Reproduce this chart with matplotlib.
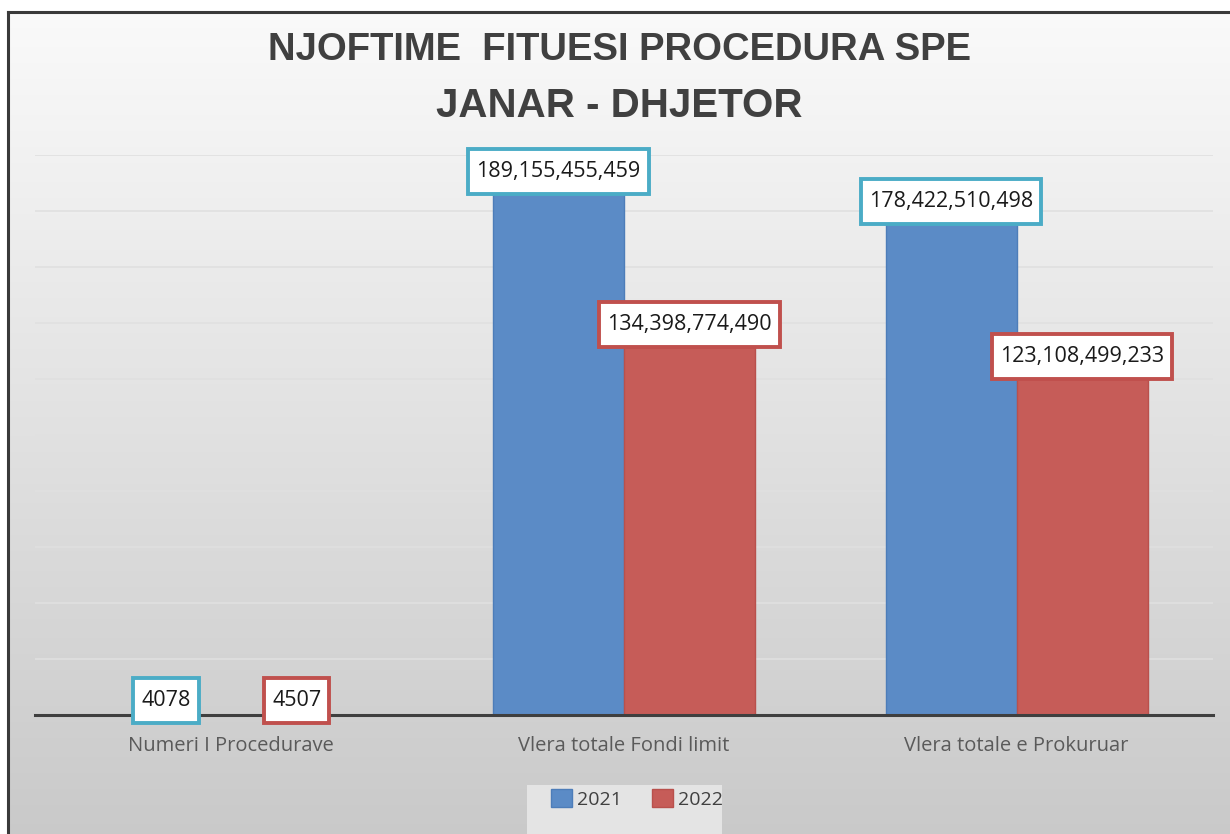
import numpy as np
import matplotlib
matplotlib.use("Agg")
import matplotlib.pyplot as plt
from matplotlib.patches import Patch, Rectangle
from matplotlib.lines import Line2D

# ---- data ----
categories = ["Numeri I Procedurave", "Vlera totale Fondi limit", "Vlera totale e Prokuruar"]
series_names = ["2021", "2022"]
values_2021 = [4078, 189155455459, 178422510498]
values_2022 = [4507, 134398774490, 123108499233]
label_formats = ["{:d}", "{:,d}", "{:,d}"]
title_lines = ["NJOFTIME  FITUESI PROCEDURA SPE", "JANAR - DHJETOR"]

bar_colors = ["#5b8bc6", "#c65c58"]
edge_colors = ["#4d7db9", "#b9504c"]
box_colors = ["#4bacc6", "#c0504d"]

W, H = 1230, 834
fig = plt.figure(figsize=(W / 100, H / 100), dpi=100)
fig.patch.set_facecolor("white")

# background gradient panel (chart area)
bx0, by_top = 8, 12
bg = fig.add_axes([bx0 / W, 0, 1 - bx0 / W, 1 - by_top / H], zorder=0)
grad = np.linspace(0.98, 0.79, 256).reshape(-1, 1)
bg.imshow(np.dstack([grad, grad, grad]), aspect="auto", extent=[0, 1, 0, 1], origin="upper")
bg.set_xlim(0, 1); bg.set_ylim(0, 1)
bg.axis("off")

# frame lines top and left
fig.add_artist(Line2D([bx0 / W, 1], [1 - by_top / H] * 2, color="#3a3a3a", lw=2.2, transform=fig.transFigure))
fig.add_artist(Line2D([bx0 / W] * 2, [0, 1 - by_top / H], color="#3a3a3a", lw=2.2, transform=fig.transFigure))

# main axes
ax_l, ax_r, ax_b, ax_t = 35, 1213, 715, 155
ax = fig.add_axes([ax_l / W, 1 - ax_b / H, (ax_r - ax_l) / W, (ax_b - ax_t) / H], zorder=2)
ax.patch.set_visible(False)

x = np.arange(len(categories))
bw = 1 / 3
series = [values_2021, values_2022]
labels = []
for i, vals in enumerate(series):
    xs = x + (i - 0.5) * bw
    ax.bar(xs, vals, width=bw, color=bar_colors[i], edgecolor=edge_colors[i], linewidth=1.0, zorder=3)
    for j, (xx, v) in enumerate(zip(xs, vals)):
        t = ax.annotate(label_formats[j].format(v), (xx, v), xytext=(0, 14), textcoords="offset pixels",
                        ha="center", va="center", fontsize=15.5, family="Open Sans", color="#1a1a1a",
                        zorder=7, annotation_clip=False)
        labels.append((t, box_colors[i]))

ax.set_xlim(-0.5, 2.5)
ax.set_ylim(0, 200e9)
ax.set_yticks(np.arange(20e9, 200e9 + 1, 20e9))
ax.yaxis.grid(True, color="#e0e0e0", linewidth=1.2, zorder=1)
ax.tick_params(axis="y", left=False, labelleft=False)
ax.set_xticks(x)
ax.set_xticklabels(categories, fontsize=14.5, family="Open Sans", color="#5a5a5a")
ax.tick_params(axis="x", length=0, pad=15)
for s in ["left", "right", "top"]:
    ax.spines[s].set_visible(False)
ax.spines["bottom"].set_color("#3f3f3f")
ax.spines["bottom"].set_linewidth(2.2)
ax.spines["bottom"].set_zorder(4)

# title
title_fam = ["Liberation Sans"]
fig.text(619 / W, 1 - 60 / H, title_lines[0], ha="center", va="baseline", fontsize=27.5,
         fontweight="bold", family=title_fam, color="#404040")
fig.text(619 / W, 1 - 117 / H, title_lines[1], ha="center", va="baseline", fontsize=29,
         fontweight="bold", family=title_fam, color="#404040")

# label boxes sized around the rendered text
fig.canvas.draw()
rend = fig.canvas.get_renderer()
pad_x, box_h = 8, 45
for t, col in labels:
    bb = t.get_window_extent(rend)
    cx, cy = (bb.x0 + bb.x1) / 2, (bb.y0 + bb.y1) / 2
    w = bb.width + 2 * pad_x
    r = Rectangle(((cx - w / 2) / W, (cy - box_h / 2) / H), w / W, box_h / H,
                  transform=fig.transFigure, facecolor="white", edgecolor=col,
                  linewidth=2.8, zorder=5, clip_on=False)
    ax.add_artist(r)

# legend
fig.add_artist(Rectangle((527 / W, 0), (722 - 527) / W, (834 - 785) / H, transform=fig.transFigure,
                         facecolor="#e4e4e4", edgecolor="none", zorder=1))
handles = [Patch(facecolor=bar_colors[i], edgecolor=edge_colors[i], label=series_names[i]) for i in range(2)]
leg = fig.legend(handles=handles, loc="center", bbox_to_anchor=(637 / W, 1 - 799 / H), ncol=2,
                 frameon=False, prop={"family": "Open Sans", "size": 14}, handlelength=1.05,
                 handleheight=1.05, handletextpad=0.25, columnspacing=1.6, labelcolor="#404040")
leg.set_zorder(3)

fig.savefig("out.png", dpi=100)
